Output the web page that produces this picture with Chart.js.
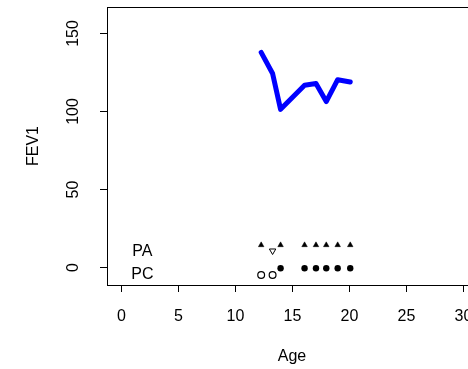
<!DOCTYPE html>
<html>
<head>
<meta charset="utf-8">
<script src="https://cdn.jsdelivr.net/npm/chart.js@4/dist/chart.umd.min.js"></script>
<style>
  html, body { margin: 0; padding: 0; background: #fff; }
  #wrap { width: 468px; height: 369px; overflow: hidden; }
  canvas { display: block; }
</style>
</head>
<body>
<div id="wrap"><canvas id="fev" width="490" height="369"></canvas></div>
<script>
// ---- data ----
const ages = [12.3, 13.3, 14.0, 16.1, 17.1, 18.0, 19.0, 20.1];
const fev1 = [137.5, 124, 101, 116.5, 117.5, 106, 120, 118.5];

// PA row: filled triangles, one hollow down-triangle
const paAges = [12.3, 14.0, 16.1, 17.1, 18.0, 19.0, 20.1];
const paY = 14;
const paOpenAges = [13.3];
const paOpenY = 10.3;

// PC row: filled dots, hollow dots
const pcAges = [14.0, 16.1, 17.1, 18.0, 19.0, 20.1];
const pcY = -0.9;
const pcOpenAges = [12.3, 13.3];
const pcOpenY = -5.2;

const xTicks = [0, 5, 10, 15, 20, 25, 30];
const yTicks = [0, 50, 100, 150];
const rowLabels = [{ text: 'PA', x: 1.9, y: 10 }, { text: 'PC', x: 1.9, y: -5 }];

const FONT = '16px "Liberation Sans", Arial, sans-serif';

const toPts = (xs, y) => xs.map(x => ({ x: x, y: y }));

// R-style axes: box, outward ticks, rotated y labels
const baseAxes = {
    id: 'baseAxes',
    afterDatasetsDraw(chart) {
        const { ctx, chartArea: a, scales: { x, y } } = chart;
        ctx.save();
        ctx.strokeStyle = '#000';
        ctx.lineWidth = 1;
        ctx.strokeRect(a.left + 0.5, a.top + 0.5, a.right - a.left, a.bottom - a.top);

        ctx.fillStyle = '#000';
        ctx.font = FONT;
        ctx.textAlign = 'center';
        ctx.textBaseline = 'middle';

        xTicks.forEach(v => {
            const px = Math.round(x.getPixelForValue(v)) + 0.5;
            ctx.beginPath();
            ctx.moveTo(px, a.bottom);
            ctx.lineTo(px, a.bottom + 7);
            ctx.stroke();
            ctx.fillText(String(v), px, a.bottom + 32);
        });

        yTicks.forEach(v => {
            const py = Math.round(y.getPixelForValue(v)) + 0.5;
            ctx.beginPath();
            ctx.moveTo(a.left, py);
            ctx.lineTo(a.left - 7, py);
            ctx.stroke();
            ctx.save();
            ctx.translate(a.left - 33, py);
            ctx.rotate(-Math.PI / 2);
            ctx.fillText(String(v), 0, 0);
            ctx.restore();
        });

        // axis titles
        ctx.fillText('Age', (a.left + a.right) / 2, a.bottom + 72);
        ctx.save();
        ctx.translate(34, (a.top + a.bottom) / 2);
        ctx.rotate(-Math.PI / 2);
        ctx.fillText('FEV1', 0, 0);
        ctx.restore();

        // row labels inside the plot
        rowLabels.forEach(l => {
            ctx.fillText(l.text, x.getPixelForValue(l.x), y.getPixelForValue(l.y));
        });
        ctx.restore();
    }
};

new Chart(document.getElementById('fev'), {
    type: 'scatter',
    data: {
        datasets: [
            {
                label: 'FEV1',
                data: ages.map((a, i) => ({ x: a, y: fev1[i] })),
                showLine: true,
                borderColor: '#0000ff',
                borderWidth: 5,
                borderCapStyle: 'round',
                borderJoinStyle: 'round',
                pointRadius: 0,
                tension: 0
            },
            {
                label: 'PA',
                data: toPts(paAges, paY),
                pointStyle: 'triangle',
                pointRadius: 3.2,
                backgroundColor: '#000',
                borderColor: '#000',
                borderWidth: 0.5
            },
            {
                label: 'PA open',
                data: toPts(paOpenAges, paOpenY),
                pointStyle: 'triangle',
                rotation: 180,
                pointRadius: 3.7,
                backgroundColor: '#fff',
                borderColor: '#000',
                borderWidth: 1
            },
            {
                label: 'PC',
                data: toPts(pcAges, pcY),
                pointStyle: 'circle',
                pointRadius: 3.2,
                backgroundColor: '#000',
                borderColor: '#000',
                borderWidth: 0
            },
            {
                label: 'PC open',
                data: toPts(pcOpenAges, pcOpenY),
                pointStyle: 'circle',
                pointRadius: 3.4,
                backgroundColor: '#fff',
                borderColor: '#000',
                borderWidth: 1.2
            }
        ]
    },
    options: {
        responsive: false,
        animation: false,
        layout: { padding: { left: 107, top: 7, right: 13, bottom: 84 } },
        plugins: {
            legend: { display: false },
            tooltip: { enabled: false }
        },
        scales: {
            x: { type: 'linear', min: -1.2, max: 31.2, display: false },
            y: { type: 'linear', min: -11.6, max: 166.6, display: false }
        }
    },
    plugins: [baseAxes]
});
</script>
</body>
</html>
